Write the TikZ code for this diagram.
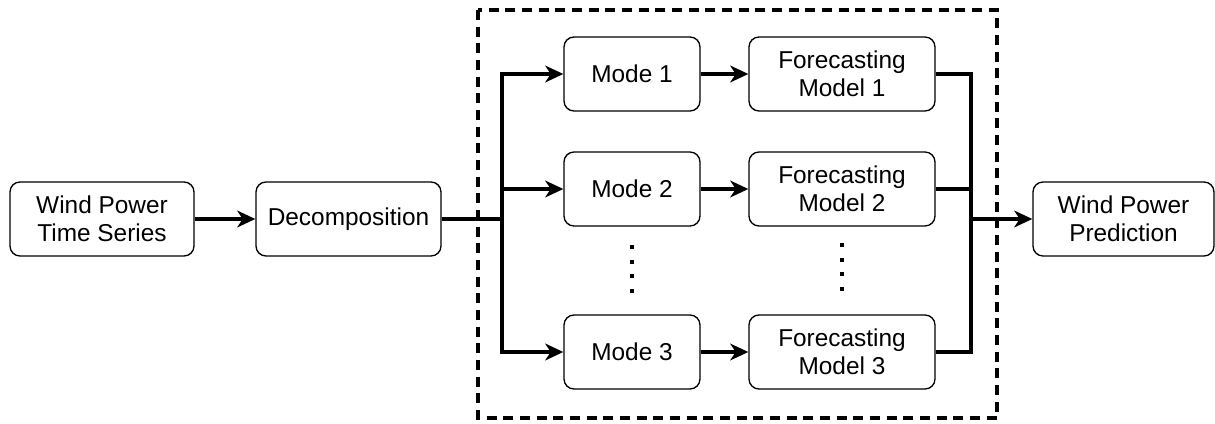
\documentclass[tikz,border=0pt]{standalone}
\usepackage{fontspec}
\setmainfont{Liberation Sans}
\usetikzlibrary{arrows.meta}

\begin{document}
\begin{tikzpicture}[x=0.75pt, y=-0.75pt,
  box/.style={draw, rounded corners=7.5pt, line width=1pt, minimum height=55.5pt,
    align=center, inner sep=0pt, font=\fontsize{18.3}{20.8}\selectfont},
  link/.style={line width=2.6pt},
  arrow/.style={line width=2.6pt, -{Stealth[length=13.5pt, width=12.5pt, inset=4pt]}},
  dotcol/.style={line width=3pt, dash pattern=on 3pt off 8pt}]
  \useasboundingbox (0,0) rectangle (1215,424);

  % dashed frame round the per-mode models
  \draw[line width=2.6pt, dash pattern=on 7.5pt off 5pt] (478,10) rectangle (997,418);

  \node[box, minimum width=138pt]   (series) at (102,219)    {Wind Power\\Time Series};
  \node[box, minimum width=138.75pt] (decomp) at (348.5,219) {Decomposition};
  \node[box, minimum width=102pt]   (mode1) at (632,74)  {Mode 1};
  \node[box, minimum width=102pt]   (mode2) at (632,189) {Mode 2};
  \node[box, minimum width=102pt]   (mode3) at (632,352) {Mode 3};
  \node[box, minimum width=139.5pt] (fm1) at (842,74)  {Forecasting\\Model 1};
  \node[box, minimum width=139.5pt] (fm2) at (842,189) {Forecasting\\Model 2};
  \node[box, minimum width=139.5pt] (fm3) at (842,352) {Forecasting\\Model 3};
  \node[box, minimum width=135.75pt] (pred) at (1123.5,219) {Wind Power\\Prediction};

  \coordinate (split) at (502,219);
  \coordinate (join) at (971,219);

  \draw[arrow] (series) -- (decomp);
  \draw[link] (decomp) -- (split);
  \draw[arrow] (split) |- (mode1);
  \draw[arrow] (split) |- (mode2);
  \draw[arrow] (split) |- (mode3);
  \draw[arrow] (mode1) -- (fm1);
  \draw[arrow] (mode2) -- (fm2);
  \draw[arrow] (mode3) -- (fm3);
  \draw[link] (fm1) -| (join);
  \draw[link] (fm2) -| (join);
  \draw[link] (fm3) -| (join);
  \draw[arrow] (join) -- (pred);

  % vertical dots between the second and last rows
  \draw[dotcol] (632,245) -- (632,295);
  \draw[dotcol] (842,243) -- (842,293);
\end{tikzpicture}
\end{document}
